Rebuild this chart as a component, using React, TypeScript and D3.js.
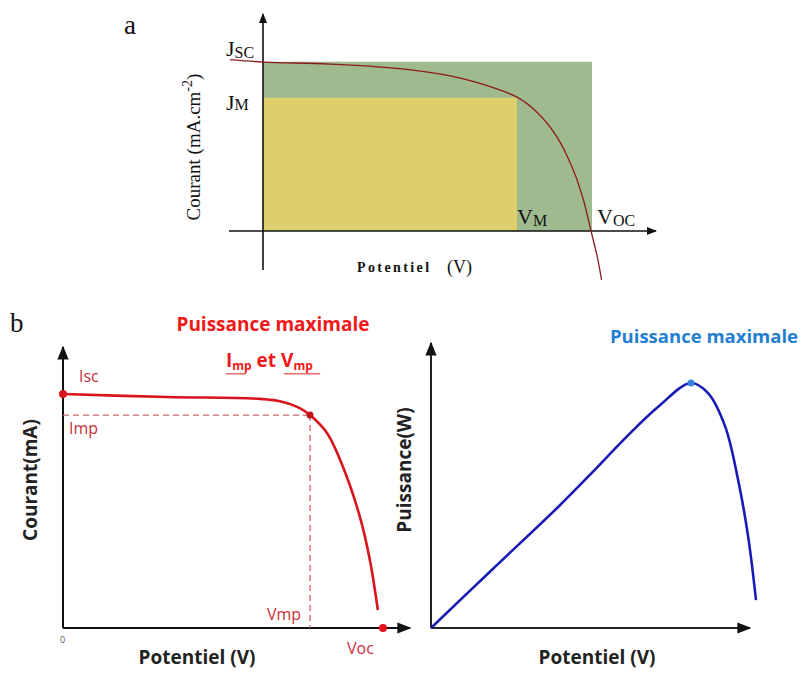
import React from "react";
import * as d3 from "d3";

// Panel a: J-V curve (normalised units: V/Voc, J/Jsc)
const ivA_V = [-0.1, 0, 0.204, 0.406, 0.558, 0.66, 0.771, 0.832, 0.893, 0.943, 0.974, 0.997, 1.016, 1.029];
const ivA_J = [1.012, 0.998, 0.986, 0.961, 0.921, 0.872, 0.792, 0.703, 0.557, 0.36, 0.183, 0.0, -0.152, -0.289];
const a_Voc = 1.0;
const a_Jsc = 1.0;
const a_Vm = 0.772;
const a_Jm = 0.787;

// Panel b left: I-V curve
const ivB_V = [0, 0.325, 0.616, 0.6875, 0.74, 0.772, 0.825, 0.875, 0.928, 0.959, 0.984];
const ivB_I = [1, 0.987, 0.979, 0.966, 0.94, 0.91, 0.833, 0.688, 0.474, 0.291, 0.077];
const b_Vmp = 0.772;
const b_Imp = 0.91;
const b_Voc = 1.0;

// Panel b right: P-V curve
const pv_V = [0, 0.187, 0.392, 0.494, 0.597, 0.699, 0.8, 0.853, 0.905, 0.945, 0.976, 1.0];
const pv_P = [0, 0.237, 0.495, 0.632, 0.774, 0.903, 1, 0.958, 0.823, 0.604, 0.372, 0.114];
const pv_maxV = 0.8;
const pv_maxP = 1;

const serif = "'Liberation Serif', 'DejaVu Serif', serif";
const sans = "'Open Sans', 'Noto Sans', sans-serif";

export default function App() {
  // scales panel a
  const ax = d3.scaleLinear().domain([0, 1]).range([263, 592]);
  const ay = d3.scaleLinear().domain([0, 1]).range([231, 61.7]);
  const lineA = d3
    .line<number>()
    .x((_, i) => ax(ivA_V[i]))
    .y((d) => ay(d))
    .curve(d3.curveCatmullRom.alpha(0.5));

  // panel b left
  const bx = d3.scaleLinear().domain([0, 1]).range([63, 383]);
  const by = d3.scaleLinear().domain([0, 1]).range([628, 394]);
  const lineB = d3
    .line<number>()
    .x((_, i) => bx(ivB_V[i]))
    .y((d) => by(d))
    .curve(d3.curveCatmullRom.alpha(0.5));

  // panel b right
  const cx = d3.scaleLinear().domain([0, 1]).range([431, 756]);
  const cy = d3.scaleLinear().domain([0, 1]).range([628, 383]);
  const lineC = d3
    .line<number>()
    .x((_, i) => cx(pv_V[i]))
    .y((d) => cy(d))
    .curve(d3.curveCatmullRom.alpha(0.5));

  const red = "#d9141c";
  const redLabel = "#c9303a";

  // wavy underline generator
  const wavy = (x0: number, x1: number, y: number) => {
    let p = `M${x0},${y}`;
    for (let x = x0; x < x1; x += 2) {
      p += ` L${x + 1},${y + 1.5} L${x + 2},${y}`;
    }
    return p;
  };

  return (
    <svg width={808} height={673} style={{ position: "absolute", left: 0, top: 0, background: "#fff" }}>
      <defs>
        <marker id="arrA" viewBox="0 0 10 10" refX="9" refY="5" markerWidth="10" markerHeight="10" markerUnits="userSpaceOnUse" orient="auto">
          <path d="M0,1 L10,5 L0,9 Z" fill="#111" />
        </marker>
        <marker id="arrB" viewBox="0 0 10 10" refX="9" refY="5" markerWidth="14" markerHeight="14" markerUnits="userSpaceOnUse" orient="auto">
          <path d="M0,1 L10,5 L0,9 Z" fill="#111" />
        </marker>
      </defs>
      <rect x={0} y={0} width={808} height={673} fill="#fff" />

      {/* ===== Panel a ===== */}
      <text x={124} y={34} fontFamily={serif} fontSize={27} fill="#111">a</text>
      <rect x={ax(0)} y={ay(a_Jsc)} width={ax(a_Voc) - ax(0)} height={ay(0) - ay(a_Jsc)} fill="#a0ba8f" />
      <rect x={ax(0)} y={ay(a_Jm)} width={ax(a_Vm) - ax(0)} height={ay(0) - ay(a_Jm)} fill="#ddd06c" />
      {/* axes */}
      <line x1={263} y1={270} x2={263} y2={14} stroke="#111" strokeWidth={1.6} markerEnd="url(#arrA)" />
      <line x1={229} y1={231} x2={656} y2={231} stroke="#111" strokeWidth={1.6} markerEnd="url(#arrA)" />
      <path d={lineA(ivA_J) || ""} fill="none" stroke="#8b1c1c" strokeWidth={1.3} />
      {/* labels */}
      <text x={226} y={56} fontFamily={serif} fontSize={22} fill="#111">
        J<tspan fontSize={16} dy={2}>SC</tspan>
      </text>
      <text x={226} y={110} fontFamily={serif} fontSize={22} fill="#111">
        J<tspan fontSize={16} dy={0}>M</tspan>
      </text>
      <text x={517} y={224} fontFamily={serif} fontSize={22} fill="#111">
        V<tspan fontSize={16} dy={2}>M</tspan>
      </text>
      <text x={597} y={224} fontFamily={serif} fontSize={22} fill="#111">
        V<tspan fontSize={16} dy={2}>OC</tspan>
      </text>
      <text transform="translate(200,147) rotate(-90)" textAnchor="middle" fontFamily={serif} fontSize={19} fill="#111">
        Courant  (mA.cm<tspan fontSize={14} dy={-8}>-2</tspan><tspan dy={8}>)</tspan>
      </text>
      <text x={357} y={272} fontFamily={serif} fontSize={14} fontWeight="bold" fill="#111" letterSpacing={2.4}>
        Potentiel
      </text>
      <text x={447} y={273} fontFamily={serif} fontSize={18} fill="#111">(V)</text>

      {/* ===== Panel b left ===== */}
      <text x={10} y={332} fontFamily={serif} fontSize={27} fill="#111">b</text>
      <text x={273} y={331} textAnchor="middle" fontFamily={sans} fontSize={19} fontWeight="bold" fill="#f01818">
        Puissance maximale
      </text>
      <text x={226} y={367} fontFamily={sans} fontSize={19} fontWeight="bold" fill="#f01818">
        I<tspan fontSize={12} dy={3}>mp</tspan>
        <tspan fontSize={19} dy={-3}> et V</tspan>
        <tspan fontSize={12} dy={3}>mp</tspan>
      </text>
      <path d={wavy(226, 246, 373)} fill="none" stroke="#e23030" strokeWidth={0.8} />
      <path d={wavy(284, 320, 373)} fill="none" stroke="#e23030" strokeWidth={0.8} />

      <line x1={63} y1={628} x2={63} y2={347} stroke="#111" strokeWidth={2} markerEnd="url(#arrB)" />
      <line x1={63} y1={628} x2={410} y2={628} stroke="#111" strokeWidth={2} markerEnd="url(#arrB)" />
      <line x1={bx(0)} y1={by(b_Imp)} x2={bx(b_Vmp)} y2={by(b_Imp)} stroke="#c86a6a" strokeWidth={1.3} strokeDasharray="6,4" />
      <line x1={bx(b_Vmp)} y1={by(b_Imp)} x2={bx(b_Vmp)} y2={628} stroke="#d85a6a" strokeWidth={1.3} strokeDasharray="6,4" />
      <path d={lineB(ivB_I) || ""} fill="none" stroke={red} strokeWidth={2.6} />
      <circle cx={bx(0)} cy={by(1)} r={4} fill={red} />
      <circle cx={bx(b_Vmp)} cy={by(b_Imp)} r={3.5} fill="#c0141c" />
      <circle cx={bx(b_Voc)} cy={628} r={4} fill="#e8101c" />
      <text x={79} y={382} fontFamily={sans} fontSize={16} fill={redLabel}>Isc</text>
      <text x={69} y={434} fontFamily={sans} fontSize={16} fill={redLabel}>Imp</text>
      <text x={267} y={620} fontFamily={sans} fontSize={16} fill={redLabel}>Vmp</text>
      <text x={347} y={654} fontFamily={sans} fontSize={16} fill={redLabel}>Voc</text>
      <text x={60} y={643} fontFamily={sans} fontSize={9} fill="#555">0</text>
      <text transform="translate(37,480) rotate(-90)" textAnchor="middle" fontFamily={sans} fontSize={19} fontWeight="bold" fill="#222">
        Courant(mA)
      </text>
      <text x={197} y={664} textAnchor="middle" fontFamily={sans} fontSize={19} fontWeight="bold" fill="#222">
        Potentiel (V)
      </text>

      {/* ===== Panel b right ===== */}
      <text x={610} y={343} fontFamily={sans} fontSize={18.5} fontWeight="bold" fill="#1f80d2">
        Puissance maximale
      </text>
      <line x1={431} y1={628} x2={431} y2={343} stroke="#222" strokeWidth={2} markerEnd="url(#arrB)" />
      <line x1={431} y1={628} x2={750} y2={628} stroke="#222" strokeWidth={2} markerEnd="url(#arrB)" />
      <path d={lineC(pv_P) || ""} fill="none" stroke="#1a1ab4" strokeWidth={2.6} />
      <circle cx={cx(pv_maxV)} cy={cy(pv_maxP)} r={3.5} fill="#3a7ee0" />
      <text transform="translate(411,470) rotate(-90)" textAnchor="middle" fontFamily={sans} fontSize={19} fontWeight="bold" fill="#222">
        Puissance(W)
      </text>
      <text x={597} y={664} textAnchor="middle" fontFamily={sans} fontSize={19} fontWeight="bold" fill="#222">
        Potentiel (V)
      </text>
    </svg>
  );
}
